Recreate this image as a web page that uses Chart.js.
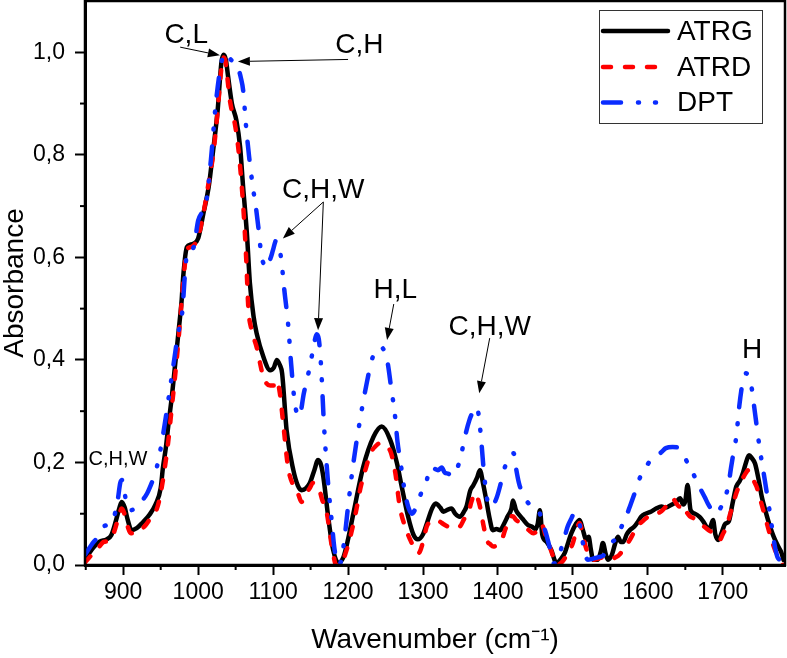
<!DOCTYPE html>
<html><head><meta charset="utf-8">
<script src="https://cdn.jsdelivr.net/npm/chart.js@4.4.1/dist/chart.umd.min.js"></script>
<style>html,body{margin:0;padding:0;background:#fff}#wrap{width:787px;height:658px;position:relative}</style>
</head><body><div id="wrap"><canvas id="c" width="787" height="658"></canvas></div>
<script>
// ---------- data (wavenumber cm-1, absorbance) ----------
const atrgX = [849,858,868,878,884,890,895,898,902,906,911,918,926,935,943,950,953,957,960,965,969,974,978,980,985,990,994,1000,1007,1014,1020,1026,1031,1034,1037,1040,1045,1051,1056,1060,1065,1069,1074,1078,1087,1096,1101,1105,1109,1112,1118,1127,1133,1138,1144,1149,1155,1160,1164,1167,1174,1180,1187,1194,1200,1207,1220,1234,1245,1256,1265,1272,1280,1287,1293,1300,1306,1312,1317,1323,1327,1333,1338,1343,1349,1355,1358,1363,1367,1372,1376,1380,1384,1389,1393,1398,1403,1408,1413,1418,1420,1424,1430,1434,1440,1445,1450,1453,1456,1459,1465,1471,1478,1484,1489,1494,1498,1504,1509,1513,1518,1521,1524,1527,1533,1537,1540,1544,1547,1552,1556,1560,1564,1567,1572,1576,1582,1587,1591,1597,1604,1611,1618,1624,1631,1637,1643,1647,1650,1653,1657,1663,1669,1674,1678,1682,1687,1690,1694,1699,1703,1708,1713,1718,1723,1727,1731,1735,1739,1743,1748,1752,1757,1763,1768,1774,1778,1781];
const atrgY = [0.010,0.030,0.045,0.050,0.058,0.085,0.112,0.123,0.112,0.088,0.068,0.072,0.083,0.098,0.118,0.150,0.190,0.230,0.270,0.330,0.387,0.458,0.517,0.562,0.620,0.625,0.627,0.637,0.686,0.737,0.809,0.887,0.980,0.995,0.985,0.952,0.900,0.867,0.815,0.737,0.647,0.550,0.484,0.452,0.406,0.380,0.385,0.400,0.390,0.374,0.263,0.185,0.155,0.146,0.150,0.160,0.185,0.205,0.195,0.172,0.088,0.030,0.004,0.016,0.050,0.100,0.190,0.250,0.270,0.245,0.200,0.150,0.095,0.060,0.050,0.060,0.085,0.110,0.120,0.112,0.104,0.108,0.110,0.100,0.094,0.105,0.114,0.145,0.155,0.170,0.185,0.160,0.130,0.090,0.068,0.070,0.068,0.080,0.095,0.110,0.126,0.107,0.095,0.088,0.078,0.075,0.070,0.080,0.107,0.060,0.045,0.030,0.004,0.012,0.023,0.045,0.062,0.080,0.088,0.070,0.049,0.055,0.030,0.010,0.010,0.025,0.043,0.020,0.010,0.020,0.040,0.055,0.045,0.045,0.060,0.068,0.075,0.085,0.094,0.100,0.104,0.110,0.114,0.112,0.117,0.122,0.130,0.118,0.125,0.156,0.107,0.100,0.094,0.085,0.075,0.070,0.088,0.060,0.049,0.065,0.080,0.085,0.120,0.153,0.165,0.180,0.200,0.214,0.208,0.198,0.165,0.133,0.105,0.075,0.055,0.036,0.025,0.010];

const atrdX = [849,858,866,874,882,888,894,898,902,906,910,916,923,930,938,945,950,955,960,965,970,975,980,985,990,995,1000,1005,1010,1015,1020,1025,1028,1031,1033,1036,1039,1042,1045,1049,1053,1057,1061,1064,1067,1071,1078,1087,1096,1101,1105,1109,1113,1120,1127,1133,1138,1144,1149,1153,1158,1162,1166,1170,1174,1177,1181,1184,1190,1196,1203,1210,1217,1224,1230,1237,1243,1250,1257,1263,1269,1276,1283,1289,1294,1300,1305,1310,1316,1322,1327,1333,1338,1344,1349,1355,1360,1365,1369,1373,1376,1381,1385,1390,1394,1400,1405,1410,1416,1420,1424,1430,1436,1441,1447,1453,1457,1460,1464,1469,1474,1478,1485,1492,1500,1505,1509,1513,1517,1522,1527,1533,1540,1546,1552,1557,1562,1567,1572,1576,1582,1589,1595,1600,1606,1612,1618,1624,1629,1633,1638,1642,1647,1651,1656,1660,1665,1670,1675,1681,1687,1691,1696,1700,1705,1710,1714,1718,1723,1727,1731,1734,1738,1741,1745,1750,1754,1759,1765,1770,1776,1780];
const atrdY = [0.005,0.020,0.032,0.045,0.048,0.065,0.095,0.110,0.098,0.075,0.062,0.062,0.068,0.078,0.095,0.110,0.140,0.185,0.240,0.310,0.380,0.460,0.550,0.615,0.620,0.625,0.640,0.670,0.710,0.755,0.800,0.870,0.920,0.970,0.990,0.985,0.950,0.910,0.885,0.860,0.820,0.760,0.680,0.600,0.500,0.460,0.425,0.367,0.350,0.350,0.360,0.335,0.283,0.190,0.155,0.140,0.123,0.140,0.150,0.160,0.155,0.145,0.125,0.114,0.080,0.049,0.015,0.000,0.000,0.020,0.055,0.100,0.153,0.190,0.218,0.232,0.238,0.232,0.220,0.180,0.114,0.075,0.049,0.032,0.023,0.045,0.075,0.085,0.088,0.085,0.080,0.075,0.072,0.074,0.075,0.090,0.100,0.125,0.140,0.130,0.114,0.075,0.049,0.040,0.036,0.040,0.049,0.070,0.094,0.095,0.088,0.082,0.075,0.068,0.062,0.068,0.080,0.075,0.055,0.036,0.015,0.000,0.005,0.020,0.043,0.070,0.082,0.060,0.036,0.015,0.010,0.012,0.015,0.010,0.012,0.015,0.020,0.030,0.040,0.049,0.065,0.080,0.088,0.094,0.098,0.100,0.105,0.114,0.122,0.130,0.120,0.114,0.118,0.105,0.095,0.092,0.088,0.082,0.075,0.068,0.062,0.055,0.049,0.060,0.075,0.100,0.120,0.140,0.158,0.170,0.180,0.185,0.175,0.165,0.153,0.128,0.107,0.080,0.049,0.028,0.010,0.000];

const dptX = [849,858,866,874,882,888,893,896,899,902,905,911,918,925,932,938,942,947,952,957,963,968,973,976,979,982,985,990,994,1000,1006,1011,1017,1024,1031,1036,1040,1044,1048,1053,1057,1060,1064,1068,1073,1077,1081,1084,1088,1091,1094,1097,1100,1104,1108,1111,1115,1120,1124,1129,1135,1141,1148,1154,1158,1161,1164,1168,1173,1178,1182,1187,1191,1195,1200,1207,1216,1224,1233,1240,1244,1249,1253,1258,1262,1266,1270,1276,1281,1285,1290,1295,1300,1304,1310,1315,1320,1325,1329,1334,1338,1342,1346,1351,1355,1362,1367,1371,1374,1377,1381,1385,1389,1394,1398,1403,1407,1413,1418,1421,1424,1428,1431,1436,1441,1447,1452,1456,1460,1464,1468,1471,1474,1479,1484,1489,1493,1497,1502,1505,1509,1512,1516,1520,1526,1533,1540,1547,1553,1560,1565,1570,1575,1580,1587,1592,1597,1604,1612,1618,1624,1633,1642,1647,1651,1656,1660,1666,1671,1676,1680,1685,1689,1694,1698,1704,1708,1711,1715,1718,1722,1727,1731,1735,1738,1743,1749,1756,1763,1769,1773,1776];
const dptY = [0.020,0.040,0.055,0.075,0.080,0.095,0.130,0.160,0.166,0.140,0.114,0.107,0.115,0.125,0.140,0.160,0.175,0.205,0.244,0.290,0.350,0.400,0.450,0.470,0.497,0.560,0.607,0.615,0.620,0.672,0.690,0.710,0.790,0.906,0.980,0.998,0.992,0.985,0.980,0.970,0.950,0.926,0.854,0.796,0.737,0.698,0.650,0.607,0.585,0.580,0.590,0.600,0.615,0.633,0.620,0.594,0.536,0.470,0.393,0.315,0.290,0.335,0.380,0.425,0.450,0.440,0.387,0.270,0.166,0.088,0.030,0.000,0.010,0.049,0.114,0.198,0.283,0.348,0.406,0.420,0.425,0.415,0.393,0.340,0.300,0.240,0.200,0.140,0.110,0.100,0.110,0.130,0.150,0.160,0.190,0.188,0.185,0.190,0.180,0.178,0.172,0.180,0.190,0.215,0.244,0.283,0.300,0.309,0.295,0.255,0.185,0.133,0.114,0.118,0.130,0.155,0.180,0.205,0.215,0.218,0.190,0.160,0.146,0.130,0.120,0.114,0.110,0.100,0.080,0.062,0.040,0.023,0.003,0.008,0.030,0.055,0.075,0.088,0.100,0.098,0.080,0.055,0.023,0.010,0.012,0.015,0.018,0.030,0.045,0.055,0.075,0.090,0.110,0.130,0.160,0.180,0.190,0.205,0.212,0.220,0.228,0.230,0.228,0.220,0.205,0.190,0.180,0.160,0.146,0.132,0.120,0.108,0.100,0.105,0.114,0.135,0.160,0.190,0.225,0.250,0.310,0.360,0.374,0.365,0.350,0.296,0.230,0.166,0.100,0.040,0.015,0.010];

const seriesNames = ['ATRG', 'ATRD', 'DPT'];
const xTickValues = [900,1000,1100,1200,1300,1400,1500,1600,1700];
const xMinorValues = [850,950,1050,1150,1250,1350,1450,1550,1650,1750];
const yTickValues = [0,0.2,0.4,0.6,0.8,1.0];
const yMinorValues = [0.1,0.3,0.5,0.7,0.9];

// annotation labels (placed in data coordinates)
const annLabels = ['C,L','C,H','C,H,W','H,L','C,H,W','H','C,H,W'];
const annX      = [984, 1215, 1167, 1263, 1389, 1739, 893];
const annY      = [1.018, 0.998, 0.715, 0.52, 0.448, 0.4035, 0.195];
const annSize   = [28, 28, 28, 28, 28, 28, 20];
// arrows: from (x1,y1) to tip (x2,y2), data coordinates
const arrX1 = [976, 1200, 1167, 1167, 1261, 1389];
const arrY1 = [1.010, 0.986, 0.708, 0.708, 0.509, 0.4425];
const arrX2 = [1029, 1053, 1113, 1160, 1252, 1375];
const arrY2 = [0.994, 0.982, 0.637, 0.458, 0.439, 0.335];

const FONT = "'Liberation Sans', Arial, Helvetica, sans-serif";
const toPts = (xs, ys) => xs.map((x, i) => ({x, y: ys[i]}));

const styles = [
  {color:'#000000', dash:[], width:4.5},
  {color:'#ff0000', dash:[8,14], width:4.5},
  {color:'#0a2cff', dash:[18,17,1,16,1,16], width:4.5}
];

const decor = {
  id: 'decor',
  afterDraw(chart) {
    const {ctx, chartArea: a, scales: {x, y}} = chart;
    ctx.save();
    // frame
    ctx.strokeStyle = '#000';
    ctx.lineWidth = 2.5;
    ctx.strokeRect(a.left, a.top, a.right - a.left, a.bottom - a.top);
    // minor ticks
    ctx.lineWidth = 2;
    ctx.lineCap = 'butt';
    xMinorValues.forEach(v => {
      const p = x.getPixelForValue(v);
      ctx.beginPath(); ctx.moveTo(p, a.bottom); ctx.lineTo(p, a.bottom + 5); ctx.stroke();
    });
    yMinorValues.forEach(v => {
      const p = y.getPixelForValue(v);
      ctx.beginPath(); ctx.moveTo(a.left, p); ctx.lineTo(a.left - 5, p); ctx.stroke();
    });
    // annotation texts
    ctx.fillStyle = '#000';
    ctx.textAlign = 'center';
    ctx.textBaseline = 'alphabetic';
    annLabels.forEach((t, i) => {
      ctx.font = annSize[i] + 'px ' + FONT;
      ctx.fillText(t, x.getPixelForValue(annX[i]), y.getPixelForValue(annY[i]));
    });
    // arrows
    ctx.lineWidth = 1;
    arrX1.forEach((_, i) => {
      const x1 = x.getPixelForValue(arrX1[i]), y1 = y.getPixelForValue(arrY1[i]);
      const x2 = x.getPixelForValue(arrX2[i]), y2 = y.getPixelForValue(arrY2[i]);
      const ang = Math.atan2(y2 - y1, x2 - x1);
      const L = 12, W = 4.5;
      const bx = x2 - L * Math.cos(ang), by = y2 - L * Math.sin(ang);
      ctx.beginPath(); ctx.moveTo(x1, y1); ctx.lineTo(bx, by); ctx.stroke();
      ctx.beginPath();
      ctx.moveTo(x2, y2);
      ctx.lineTo(bx + W * Math.sin(ang), by - W * Math.cos(ang));
      ctx.lineTo(bx - W * Math.sin(ang), by + W * Math.cos(ang));
      ctx.closePath(); ctx.fill();
    });
    // legend
    const lx = 599.5, ly = 10.5, lw = 163, lh = 113;
    ctx.fillStyle = '#fff';
    ctx.fillRect(lx, ly, lw, lh);
    ctx.strokeStyle = '#333';
    ctx.lineWidth = 1;
    ctx.strokeRect(lx, ly, lw, lh);
    const rows = [31, 67, 102.5];
    seriesNames.forEach((n, i) => {
      const s = styles[i];
      ctx.strokeStyle = s.color;
      ctx.lineWidth = s.width;
      ctx.lineCap = 'round';
      ctx.setLineDash(s.dash);
      ctx.beginPath(); ctx.moveTo(603, rows[i]); ctx.lineTo(668, rows[i]); ctx.stroke();
      ctx.setLineDash([]);
      ctx.fillStyle = '#000';
      ctx.font = '28px ' + FONT;
      ctx.textAlign = 'left';
      ctx.textBaseline = 'middle';
      ctx.fillText(n, 677, rows[i] + 1);
    });
    ctx.restore();
  }
};

const dsData = [toPts(atrgX, atrgY), toPts(atrdX, atrdY), toPts(dptX, dptY)];
const noPad = s => { s.paddingTop = 0; s.paddingBottom = 0; s.paddingLeft = 0; s.paddingRight = 0; };

new Chart(document.getElementById('c'), {
  type: 'line',
  data: {
    datasets: seriesNames.map((n, i) => ({
      label: n,
      data: dsData[i],
      borderColor: styles[i].color,
      borderWidth: styles[i].width,
      borderDash: styles[i].dash,
      borderCapStyle: 'round',
      borderJoinStyle: 'round',
      pointRadius: 0,
      fill: false,
      cubicInterpolationMode: 'monotone',
      order: 3 - i
    }))
  },
  options: {
    responsive: false,
    animation: false,
    layout: {padding: {top: 1, right: 2, left: 0, bottom: 0}},
    plugins: {legend: {display: false}, tooltip: {enabled: false}},
    scales: {
      x: {
        type: 'linear', min: 849, max: 1783,
        afterFit: s => { s.height = 93; noPad(s); },
        afterBuildTicks: s => { s.ticks = xTickValues.map(v => ({value: v})); },
        grid: {drawOnChartArea: false, tickLength: 10, tickWidth: 2, tickColor: '#000'},
        border: {display: true, color: '#000', width: 3},
        ticks: {color: '#000', font: {family: FONT, size: 23}, padding: 4, maxRotation: 0,
                callback: v => String(v)},
        title: {display: true, text: 'Wavenumber (cm⁻¹)', color: '#000',
                font: {family: FONT, size: 28, lineHeight: 1}, padding: {bottom: 4}}
      },
      y: {
        type: 'linear', min: 0, max: 1.1,
        afterFit: s => { s.width = 85; noPad(s); },
        afterBuildTicks: s => { s.ticks = yTickValues.map(v => ({value: v})); },
        grid: {drawOnChartArea: false, tickLength: 10, tickWidth: 2, tickColor: '#000'},
        border: {display: true, color: '#000', width: 3},
        ticks: {color: '#000', font: {family: FONT, size: 23}, padding: 10,
                callback: v => Number(v).toFixed(1).replace('.', ',')},
        title: {display: true, text: 'Absorbance', color: '#000',
                font: {family: FONT, size: 28, lineHeight: 1}, padding: {top: 1}}
      }
    }
  },
  plugins: [decor]
});
</script>
</body></html>
